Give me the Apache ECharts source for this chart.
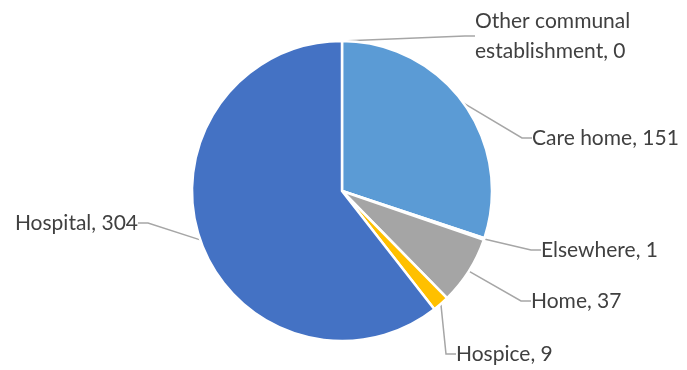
<!DOCTYPE html>
<html>
<head>
<meta charset="utf-8">
<script src="https://cdn.jsdelivr.net/npm/echarts@6/dist/echarts.min.js"></script>
<style>html,body{margin:0;padding:0;background:#fff}#c{width:687px;height:370px}</style>
</head>
<body>
<div id="c"></div>
<script>
const categories = ['Other communal establishment', 'Care home', 'Elsewhere', 'Home', 'Hospice', 'Hospital'];
const values = [0, 151, 1, 37, 9, 304];
const labelTexts = ['Other communal\nestablishment, 0', 'Care home, 151', 'Elsewhere, 1', 'Home, 37', 'Hospice, 9', 'Hospital, 304'];

const colors = ['#ED7D31', '#5B9BD5', '#ED7D31', '#A5A5A5', '#FFC000', '#4472C4'];
// label placement (style only)
const labelPos = [
  {x: 475, y: 36, align: 'left'},
  {x: 532, y: 138, align: 'left'},
  {x: 541, y: 250, align: 'left'},
  {x: 531, y: 301, align: 'left'},
  {x: 456, y: 354, align: 'left'},
  {x: 138, y: 223, align: 'right'}
];

const chart = echarts.init(document.getElementById('c'), null, {renderer: 'canvas'});
chart.setOption({
  animation: false,
  series: [{
    type: 'pie',
    center: [342, 191],
    radius: ['0%', 150],
    startAngle: 90,
    clockwise: true,
    avoidLabelOverlap: false,
    data: categories.map((c, i) => ({
      name: c, value: values[i],
      itemStyle: {color: colors[i]},
      label: {formatter: labelTexts[i]}
    })),
    itemStyle: {borderColor: '#ffffff', borderWidth: 2.5},
    label: {
      show: true,
      color: '#404040',
      fontFamily: 'Lato',
      fontSize: 21,
      lineHeight: 30
    },
    labelLine: {show: true, length: 15, length2: 10, lineStyle: {color: '#A6A6A6', width: 1.5}},
    labelLayout: function (p) {
      const lp = labelPos[p.dataIndex];
      return {x: lp.x, y: lp.y, align: lp.align, verticalAlign: 'middle'};
    }
  }]
});
</script>
</body>
</html>
